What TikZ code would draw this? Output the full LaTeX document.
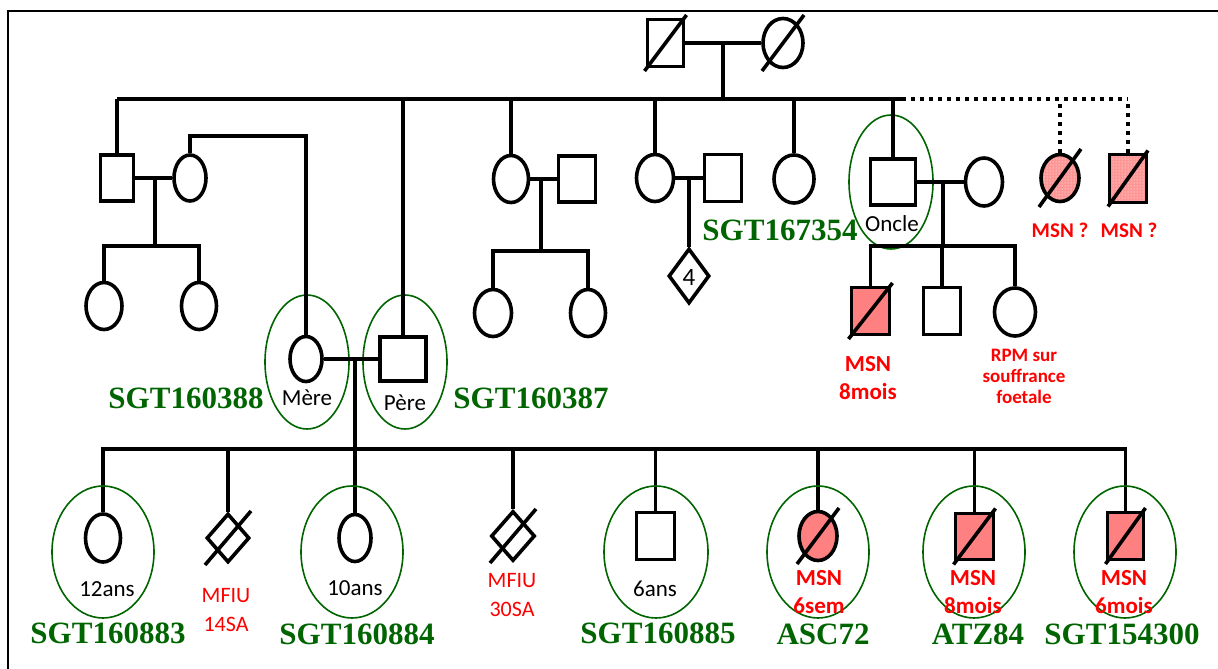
\documentclass[tikz,border=0pt]{standalone}
\usepackage{fontspec}
\setmainfont{Liberation Serif}
\newfontfamily\calib{Carlito}
\usetikzlibrary{shapes.geometric,patterns}
\definecolor{gr}{RGB}{0,100,0}
\definecolor{pk}{RGB}{255,128,128}
\definecolor{pkh}{RGB}{255,150,150}
\newcommand\dslash[3]{\draw[ln] ([shift={(-#2pt,-#3pt)}]#1.center) -- ([shift={(#2pt,#3pt)}]#1.center);}
\begin{document}
\begin{tikzpicture}[x=1pt,y=-1pt,
  ln/.style={line width=3.6pt},
  dotl/.style={line width=3.6pt,dash pattern=on 4pt off 5pt},
  sq/.style={draw,line width=3.6pt,rectangle,inner sep=0pt},
  ci/.style={draw,line width=3.6pt,ellipse,inner sep=0pt},
  dm/.style={draw,line width=3.6pt,diamond,inner sep=0pt},
  aff/.style={fill=pk},
  hat/.style={preaction={fill=pkh},pattern=dots,pattern color=white},
  gel/.style={draw=gr,line width=1.6pt,ellipse,inner sep=0pt},
  sgt/.style={text=gr,font=\bfseries\fontsize{31}{31}\selectfont,anchor=base,inner sep=0pt},
  lab/.style={font=\calib\fontsize{23}{23}\selectfont,inner sep=0pt},
  rl/.style={text=red,font=\calib\bfseries\fontsize{23}{28}\selectfont,align=center,inner sep=0pt},
  rs/.style={text=red,font=\calib\bfseries\fontsize{19}{21}\selectfont,align=center,inner sep=0pt},
  rq/.style={text=red,font=\calib\bfseries\fontsize{21}{21}\selectfont,inner sep=0pt},
  rn/.style={text=red,font=\calib\fontsize{22}{29}\selectfont,align=center,inner sep=0pt}]
\useasboundingbox (0,0) rectangle (1218,669);
\draw[line width=1.5pt] (8,669) -- (8,11) -- (1218,11);

% Generation I
\node[sq,minimum width=36pt,minimum height=47pt] (g1m) at (665.5,43) {};
\node[ci,minimum width=40pt,minimum height=49pt] (g1f) at (783,43) {};
\dslash{g1m}{21}{28}
\dslash{g1f}{21}{28}
\draw[ln] (g1m) -- (g1f);
\coordinate (m1) at (723,43);
\coordinate (s1a) at (117,99);
\coordinate (s1b) at (902,99);
\coordinate (s1c) at (1128,99);
\draw[ln] (m1) -- (m1 |- s1a);
\draw[ln] (s1a) -- (s1b);
\draw[dotl] (s1b) -- (s1c);

% Generation II - family a
\node[sq,minimum width=33pt,minimum height=46pt] (a1) at (117,178) {};
\node[ci,minimum width=32pt,minimum height=46pt] (a2) at (190,178) {};
\draw[ln] (a1.north) -- (a1.north |- s1a);
\draw[ln] (a1) -- (a2);
\coordinate (ma) at (155,178);
\coordinate (sa) at (155,246);
\draw[ln] (ma) -- (sa);
\node[ci,minimum width=36pt,minimum height=47pt] (a3) at (104,306) {};
\node[ci,minimum width=35pt,minimum height=47pt] (a4) at (199,306) {};
\draw[ln] (a3.north) -- (a3.north |- sa) -- (a4.north |- sa) -- (a4.north);

% family b
\node[ci,minimum width=35pt,minimum height=47pt] (b1) at (511,179) {};
\node[sq,minimum width=37pt,minimum height=46pt] (b2) at (577,179) {};
\draw[ln] (b1.north) -- (b1.north |- s1a);
\draw[ln] (b1) -- (b2);
\coordinate (mb) at (541,179);
\coordinate (sb) at (541,251);
\draw[ln] (mb) -- (sb);
\node[ci,minimum width=37pt,minimum height=47pt] (b3) at (493,313) {};
\node[ci,minimum width=35pt,minimum height=47pt] (b4) at (588,313) {};
\draw[ln] (b3.north) -- (b3.north |- sb) -- (b4.north |- sb) -- (b4.north);

% family c
\node[ci,minimum width=37pt,minimum height=47pt] (c1) at (655,178) {};
\node[sq,minimum width=37pt,minimum height=47pt] (c2) at (723,178) {};
\draw[ln] (c1.north) -- (c1.north |- s1a);
\draw[ln] (c1) -- (c2);
\coordinate (mc) at (689,178);
\node[dm,minimum width=41pt,minimum height=55pt] (c3) at (689,276) {};
\node[font=\calib\fontsize{25}{25}\selectfont,inner sep=0pt] (c3t) at (689,277) {4};
\draw[ln] (mc) -- (c3.north);
\node[sgt] (id1) at (780,240) {SGT167354};

% d1
\node[ci,minimum width=40pt,minimum height=48pt] (d1) at (794,179) {};
\draw[ln] (d1.north) -- (d1.north |- s1a);

% Oncle family
\node[sq,minimum width=45pt,minimum height=46pt] (oncle) at (893,182) {};
\node[gel,minimum width=84pt,minimum height=134pt] (go) at (891,182) {};
\node[lab] (tonc) at (892,224) {Oncle};
\draw[ln] (oncle.north) -- (oncle.north |- s1a);
\node[ci,minimum width=37pt,minimum height=48pt] (e1) at (984,182) {};
\draw[ln] (oncle) -- (e1);
\coordinate (me) at (943,182);
\coordinate (se) at (943,246);
\draw[ln] (me) -- (se);
\node[sq,aff,minimum width=38pt,minimum height=47pt] (e2) at (870.5,311) {};
\dslash{e2}{22}{28}
\node[sq,minimum width=37pt,minimum height=47pt] (e3) at (942,311) {};
\node[ci,minimum width=41pt,minimum height=48pt] (e4) at (1015,312) {};
\draw[ln] (e2.north) -- (e2.north |- se) -- (e4.north |- se) -- (e4.north);
\draw[ln] (e3.north) -- (e3.north |- se);
\node[rl] (te2) at (868,378) {MSN\\8mois};
\node[rs] (te4) at (1024,376) {RPM sur\\souffrance\\foetale};

% hatched (uncertain)
\node[ci,hat,minimum width=38pt,minimum height=47pt] (h1) at (1060,178) {};
\node[sq,hat,minimum width=37pt,minimum height=48pt] (h2) at (1128,178.5) {};
\dslash{h1}{21}{29}
\dslash{h2}{20}{28}
\draw[dotl] (h1.north) -- (h1.north |- s1c);
\draw[dotl] (h2.north) -- (s1c);
\node[rq] (th1) at (1060,230) {MSN ?};
\node[rq] (th2) at (1129,230) {MSN ?};

% Generation III
\node[ci,minimum width=32pt,minimum height=45pt] (mere) at (306,359) {};
\node[gel,minimum width=84pt,minimum height=134pt] (gmere) at (307,362) {};
\node[lab] (tmere) at (307,398) {Mère};
\node[sq,minimum width=46pt,minimum height=44pt] (pere) at (403,359) {};
\node[gel,minimum width=84pt,minimum height=134pt] (gpere) at (405,362) {};
\node[lab] (tpere) at (405,403) {Père};
\draw[ln] (a2.north) -- ++(0,-17) -| (mere.north);
\draw[ln] (pere.north) -- (pere.north |- s1a);
\draw[ln] (mere) -- (pere);
\coordinate (mp) at (355,359);
\node[sgt] (id2) at (186,408) {SGT160388};
\node[sgt] (id3) at (531,408) {SGT160387};

% Generation IV
\coordinate (sk) at (355,449);
\node[ci,minimum width=35pt,minimum height=48pt] (k1) at (103,538) {};
\node[dm,minimum width=43pt,minimum height=49pt] (k2) at (228,538) {};
\node[ci,minimum width=32pt,minimum height=47pt] (k3) at (355,538) {};
\node[dm,minimum width=44pt,minimum height=50pt] (k4) at (513,536) {};
\node[sq,minimum width=38pt,minimum height=47pt] (k5) at (655.5,536) {};
\node[ci,aff,minimum width=38pt,minimum height=49pt] (k6) at (818,536) {};
\node[sq,aff,minimum width=38pt,minimum height=46pt] (k7) at (974.5,536.5) {};
\node[sq,aff,minimum width=36pt,minimum height=47pt] (k8) at (1125.5,536) {};
\dslash{k2}{23}{27}
\dslash{k4}{23}{27}
\dslash{k6}{21}{28}
\dslash{k7}{21}{28}
\dslash{k8}{20}{28}
\draw[ln] (mp) -- (k3.north);
\draw[ln] (k1.north) -- (k1.north |- sk) -- (k8.north |- sk) -- (k8.north);
\foreach \k in {k2,k4,k5,k6,k7} {\draw[ln] (\k.north) -- (\k.north |- sk);}
\node[gel,minimum width=102pt,minimum height=132pt] (gk1) at (103,552) {};
\node[gel,minimum width=102pt,minimum height=132pt] (gk3) at (352,552) {};
\node[gel,minimum width=104pt,minimum height=132pt] (gk5) at (656,552) {};
\node[gel,minimum width=102pt,minimum height=132pt] (gk6) at (818,552) {};
\node[gel,minimum width=102pt,minimum height=132pt] (gk7) at (974,552) {};
\node[gel,minimum width=102pt,minimum height=132pt] (gk8) at (1125,552) {};
\node[lab] (tk1) at (107,589) {12ans};
\node[lab] (tk3) at (355,588) {10ans};
\node[lab] (tk5) at (655,589) {6ans};
\node[rn] (tk2) at (226,610) {MFIU\\14SA};
\node[rn] (tk4) at (512,595) {MFIU\\30SA};
\node[rl] (tk6) at (819,592) {MSN\\6sem};
\node[rl] (tk7) at (973,592) {MSN\\8mois};
\node[rl] (tk8) at (1124,592) {MSN\\6mois};
\node[sgt] (id4) at (108,643) {SGT160883};
\node[sgt] (id5) at (357,644) {SGT160884};
\node[sgt] (id6) at (658,643) {SGT160885};
\node[sgt] (id7) at (823,644) {ASC72};
\node[sgt] (id8) at (978,644) {ATZ84};
\node[sgt] (id9) at (1122,644) {SGT154300};
\end{tikzpicture}
\end{document}
